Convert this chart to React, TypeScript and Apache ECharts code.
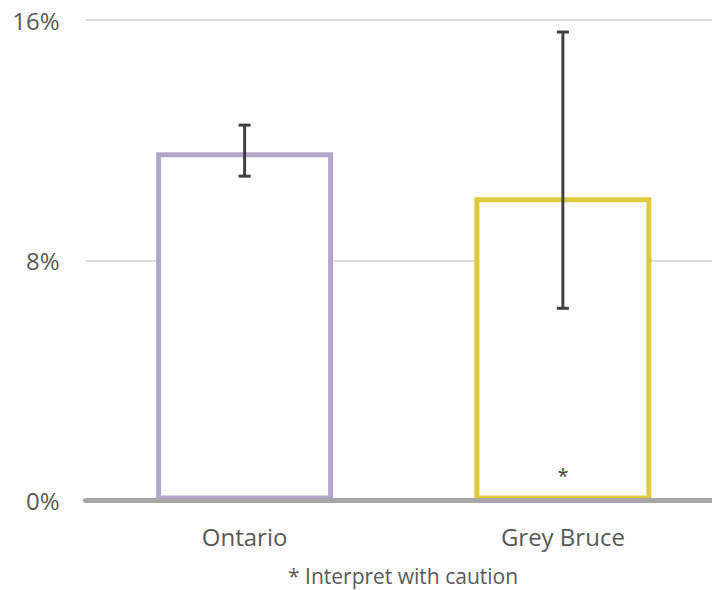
import React, { useEffect, useRef } from "react";
import * as echarts from "echarts";

const categories = ["Ontario", "Grey Bruce"];
const values = [11.6, 10.1];
const lowerCI = [10.8, 6.4];
const upperCI = [12.5, 15.6];
const barColors = ["#B4A6CA", "#DFC93D"];
const cautionFlags = [false, true];
const yTicks = { min: 0, max: 16, interval: 8 };
const footnote = "* Interpret with caution";

const FONT = "'Open Sans', 'Noto Sans', sans-serif";

export default function App() {
  const ref = useRef<HTMLDivElement>(null);

  useEffect(() => {
    if (!ref.current) return;
    const chart = echarts.init(ref.current, undefined, { renderer: "svg" });

    const barData = values.map((v, i) => ({
      value: v,
      itemStyle: { color: "#ffffff", borderColor: barColors[i], borderWidth: 5 },
      label: cautionFlags[i]
        ? {
            show: true,
            position: "insideBottom",
            distance: 15,
            formatter: "*",
            fontSize: 20,
            color: "#404040",
            fontFamily: FONT,
          }
        : { show: false },
    }));

    const errData = categories.map((_, i) => [i, lowerCI[i], upperCI[i]]);

    chart.setOption({
      animation: false,
      grid: { left: 85.5, right: 0, top: 20, bottom: 89.5, containLabel: false },
      xAxis: {
        type: "category",
        data: categories,
        z: 5,
        axisLine: { show: true, lineStyle: { color: "#A6A6A6", width: 5 } },
        axisTick: { show: false },
        axisLabel: { fontSize: 24, color: "#595959", fontFamily: FONT, margin: 24 },
      },
      yAxis: {
        type: "value",
        min: yTicks.min,
        max: yTicks.max,
        interval: yTicks.interval,
        axisLine: { show: false },
        axisTick: { show: false },
        axisLabel: {
          fontSize: 24,
          color: "#595959",
          fontFamily: FONT,
          margin: 26,
          formatter: "{value}%",
        },
        splitLine: { lineStyle: { color: "#DCDCDC", width: 2 } },
      },
      series: [
        {
          type: "bar",
          data: barData,
          barWidth: 177,
          z: 2,
        },
        {
          type: "custom",
          data: errData,
          encode: { x: 0, y: [1, 2] },
          z: 4,
          renderItem: (params: any, api: any) => {
            const x = api.value(0);
            const lo = api.coord([x, api.value(1)]);
            const hi = api.coord([x, api.value(2)]);
            const half = 6;
            const style = { stroke: "#404040", lineWidth: 3 };
            return {
              type: "group",
              children: [
                { type: "line", shape: { x1: lo[0], y1: lo[1], x2: hi[0], y2: hi[1] }, style },
                { type: "line", shape: { x1: hi[0] - half, y1: hi[1], x2: hi[0] + half, y2: hi[1] }, style },
                { type: "line", shape: { x1: lo[0] - half, y1: lo[1], x2: lo[0] + half, y2: lo[1] }, style },
              ],
            };
          },
        },
      ],
      graphic: [
        {
          type: "text",
          left: 288,
          top: 565,
          style: {
            text: footnote,
            fontSize: 21,
            fill: "#595959",
            fontFamily: FONT,
          },
        },
      ],
    });

    return () => chart.dispose();
  }, []);

  return (
    <div
      style={{
        position: "fixed",
        left: 0,
        top: 0,
        width: 712,
        height: 590,
        overflow: "hidden",
        background: "#fff",
      }}
    >
      <div ref={ref} style={{ width: 721.5, height: 590 }} />
    </div>
  );
}
